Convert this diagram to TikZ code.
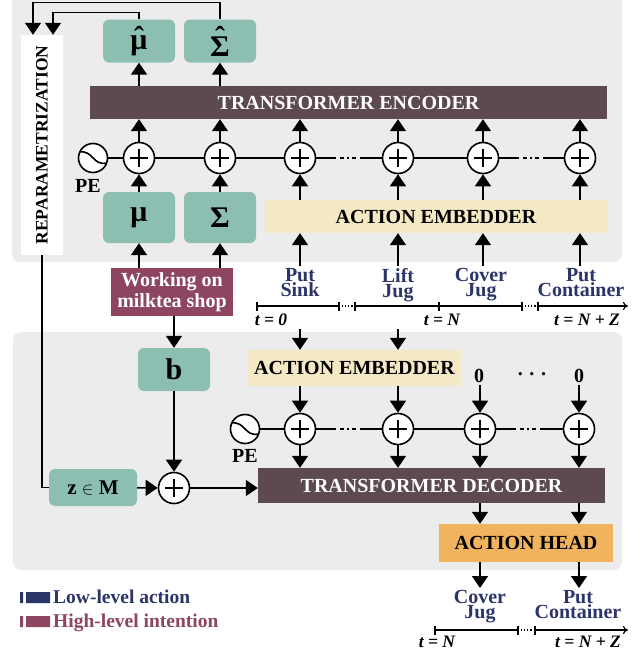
\documentclass[tikz,border=0pt]{standalone}
\usepackage{fontspec}
\setmainfont{Liberation Serif}
\usetikzlibrary{arrows.meta,calc}
\definecolor{tealc}{HTML}{8CBFB1}
\definecolor{panelc}{HTML}{ECECEC}
\definecolor{encc}{HTML}{5C4A50}
\definecolor{embc}{HTML}{F3E9C5}
\definecolor{headc}{HTML}{F2B35E}
\definecolor{maroonc}{HTML}{8D4561}
\definecolor{navyc}{HTML}{2C3568}
\newcommand\fsz[2]{\fontsize{#1}{#2}\selectfont}
\newcommand\hatted[2]{\ooalign{\hfil\raisebox{#2}{ˆ}\hfil\cr#1\cr}}
\begin{document}
\begin{tikzpicture}[x=1pt,y=-1pt,
  arr/.style={draw,line width=1.6pt,-{Triangle[length=12pt,width=16pt]}},
  conn/.style={draw,line width=1.6pt},
  dashdot/.style={dash pattern=on 20pt off 4pt on 4pt off 3pt on 2pt off 3pt on 4pt off 4pt on 60pt},
  tealbox/.style={fill=tealc,rounded corners=6pt,inner sep=0pt,font=\fsz{30}{30}\bfseries},
  encbox/.style={fill=encc,inner sep=0pt,text=white,font=\fsz{20}{20}\bfseries},
  embbox/.style={fill=embc,inner sep=0pt,font=\fsz{20}{20}\bfseries},
  plusc/.style={circle,draw,line width=1.6pt,fill=white,minimum size=31pt,inner sep=0pt,
    path picture={\draw[line width=1.6pt]
      ([xshift=-9pt]path picture bounding box.center) -- ([xshift=9pt]path picture bounding box.center)
      ([yshift=-9pt]path picture bounding box.center) -- ([yshift=9pt]path picture bounding box.center);}},
  pecirc/.style={circle,draw,line width=1.6pt,fill=white,minimum size=29pt,inner sep=0pt,
    path picture={\draw[line width=1.6pt]
      ([shift={(-14pt,6pt)}]path picture bounding box.center) .. controls ([shift={(1pt,8pt)}]path picture bounding box.center) and ([shift={(-1pt,-8pt)}]path picture bounding box.center) .. ([shift={(14pt,-5pt)}]path picture bounding box.center);}},
  lbl/.style={inner sep=2pt,font=\fsz{20}{20}\bfseries},
  actlbl/.style={inner sep=2pt,align=center,text=navyc,font=\fsz{20}{15}\bfseries},
  tlbl/.style={inner sep=0pt,font=\fsz{17.5}{17.5}\bfseries\itshape},
  tline/.style={line width=1.1pt}
]
\useasboundingbox (0,0) rectangle (642,653);
% panels
\fill[panelc,rounded corners=8pt] (12,-10) rectangle (622,262);
\fill[panelc,rounded corners=8pt] (13,332) rectangle (622,570);

% ---------- encoder part ----------
\node[tealbox,minimum width=72pt,minimum height=43pt] (muhat) at (139,41) {\hatted{μ}{2pt}};
\node[tealbox,minimum width=72pt,minimum height=43pt] (sighat) at (220,41) {\hatted{Σ}{9pt}};
\node[encbox,minimum width=517pt,minimum height=33pt] (enc) at (348.5,102.5) {TRANSFORMER ENCODER};
\node[plusc] (a1) at (139,158) {};
\node[plusc] (a2) at (220,158) {};
\node[plusc] (a3) at (300,158) {};
\node[plusc] (a4) at (398,158) {};
\node[plusc] (a5) at (483,158) {};
\node[plusc] (a6) at (580,158) {};
\node[pecirc] (pe1) at (93,158) {};
\node[lbl] (pe1l) at (88,186) {PE};
\node[tealbox,minimum width=72pt,minimum height=51pt] (mu) at (139,217.5) {μ};
\node[tealbox,minimum width=72pt,minimum height=51pt] (sig) at (220,217.5) {Σ};
\node[embbox,minimum width=342pt,minimum height=33pt] (emb1) at (436,216.5) {ACTION EMBEDDER};
\node[fill=maroonc,text=white,inner sep=0pt,align=center,minimum width=122pt,minimum height=48pt,
      font=\fsz{20}{21}\bfseries] (work) at (172,292) {Working on\\milktea shop};
\node[fill=white,minimum width=42pt,minimum height=220pt,inner sep=0pt] (rep) at (42,145) {};
\node[rotate=90,inner sep=0pt,font=\fsz{17.5}{17.5}\bfseries] (reptext) at (rep.center) {REPARAMETRIZATION};

\node[actlbl,anchor=north] (l1) at (300,266) {Put\\Sink};
\node[actlbl,anchor=north] (l2) at (398,266) {Lift\\Jug};
\node[actlbl,anchor=north] (l3) at (481,266) {Cover\\Jug};
\node[actlbl,anchor=north] (l4) at (581,266) {Put\\Container};

% timeline 1
\draw[tline] (257,306) -- (339,306) (355,306) -- (522,306);
\draw[tline,-{To[length=5pt,width=8pt]}] (538,306) -- (628,306);
\draw[tline,dotted] (339,306) -- (355,306) (522,306) -- (538,306);
\foreach \xx in {257,339,355,439,522,538} \draw[tline] (\xx,301.5) -- (\xx,310.5);
\node[tlbl] (t0) at (271,320) {t = 0};
\node[tlbl] (tn) at (442,320) {t = N};
\node[tlbl] (tnz) at (587,320) {t = N + Z};

% encoder connectors
\draw[arr] (enc.north -| muhat) -- (muhat.south);
\draw[arr] (enc.north -| sighat) -- (sighat.south);
\foreach \a in {a1,a2,a3,a4,a5,a6} \draw[arr] (\a.north) -- (\a.north |- enc.south);
\draw[arr] (mu.north) -- (a1.south);
\draw[arr] (sig.north) -- (a2.south);
\foreach \a in {a3,a4,a5,a6} \draw[arr] (emb1.north -| \a) -- (\a.south);
\draw[arr] (a3 |- l1.north) -- (a3 |- emb1.south);
\draw[arr] (a4 |- l2.north) -- (a4 |- emb1.south);
\draw[arr] (a5 |- l3.north) -- (a5 |- emb1.south);
\draw[arr] (a6 |- l4.north) -- (a6 |- emb1.south);
\draw[arr] (work.north -| mu) -- (mu.south);
\draw[arr] (work.north -| sig) -- (sig.south);
\draw[conn] (pe1) -- (a1);
\draw[conn] (a1) -- (a2);
\draw[conn] (a2) -- (a3);
\draw[conn,dashdot] (a3) -- (a4);
\draw[conn] (a4) -- (a5);
\draw[conn,dashdot] (a5) -- (a6);
\draw[arr] (sighat.north) -- ++(0,-17) -| ([xshift=-9pt]rep.north);
\draw[arr] (muhat.north) -- ++(0,-7) -| ([xshift=11pt]rep.north);

% ---------- decoder part ----------
\node[tealbox,minimum width=72pt,minimum height=43pt] (b) at (174,369.5) {b};
\node[embbox,minimum width=213pt,minimum height=36pt] (emb2) at (354.5,368) {ACTION EMBEDDER};
\node[lbl] (z1) at (479,376) {0};
\node[lbl] (z2) at (579,376) {0};
\node[lbl] (dots) at (532,374) {.\,\,.\,\,.};
\node[plusc] (d1) at (300,429) {};
\node[plusc] (d2) at (398,429) {};
\node[plusc] (d3) at (480,429) {};
\node[plusc] (d4) at (579,429) {};
\node[pecirc] (pe2) at (245,429) {};
\node[lbl] (pe2l) at (245,456) {PE};
\node[encbox,minimum width=347pt,minimum height=35pt] (dec) at (431.5,485.5) {TRANSFORMER DECODER};
\node[tealbox,minimum width=88pt,minimum height=37pt,font=\fsz{21}{21}\bfseries] (zm) at (93,487.5) {z {\fsz{17}{17}$\in$} M};
\node[plusc] (p3) at (174,488) {};
\node[fill=headc,inner sep=0pt,minimum width=174pt,minimum height=38pt,font=\fsz{20}{20}\bfseries] (head) at (526,543) {ACTION HEAD};
\node[actlbl,anchor=north] (bl1) at (480,588) {Cover\\Jug};
\node[actlbl,anchor=north] (bl2) at (578,588) {Put\\Container};
\coordinate (s1) at (300,329);
\coordinate (s2) at (398,329);

% timeline 2
\draw[tline] (435,630) -- (518,630);
\draw[tline,-{To[length=5pt,width=8pt]}] (535,630) -- (628,630);
\draw[tline,dotted] (518,630) -- (535,630);
\foreach \xx in {435,518,535} \draw[tline] (\xx,625.5) -- (\xx,634.5);
\node[tlbl] (tn2) at (437,642) {t = N};
\node[tlbl] (tnz2) at (588,642) {t = N + Z};

% decoder connectors
\draw[arr] (work.south -| b) -- (b.north);
\draw[arr] (s1) -- (s1 |- emb2.north);
\draw[arr] (s2) -- (s2 |- emb2.north);
\draw[arr] (emb2.south -| d1) -- (d1.north);
\draw[arr] (emb2.south -| d2) -- (d2.north);
\draw[arr] (z1.south -| d3) -- (d3.north);
\draw[arr] (z2.south -| d4) -- (d4.north);
\foreach \d in {d1,d2,d3,d4} \draw[arr] (\d.south) -- (\d.south |- dec.north);
\draw[conn] (pe2) -- (d1);
\draw[conn,dashdot] (d1) -- (d2);
\draw[conn] (d2) -- (d3);
\draw[conn,dashdot] (d3) -- (d4);
\draw[conn] (rep.south) |- (zm.west);
\draw[arr] (zm) -- (p3);
\draw[arr] (b.south) -- (p3.north);
\draw[arr] (p3.east) -- (p3.east -| dec.west);
\draw[arr] (dec.south -| d3) -- (head.north -| d3);
\draw[arr] (dec.south -| d4) -- (head.north -| d4);
\draw[arr] (head.south -| d3) -- (bl1.north -| d3);
\draw[arr] (head.south -| d4) -- (bl2.north -| d4);

% legend
\fill[navyc] (20,592) rectangle (23,603) (26,592) rectangle (50,603);
\node[anchor=base west,inner sep=0pt,text=navyc,font=\fsz{19.5}{19.5}\bfseries] (leg1) at (53,603) {Low-level action};
\fill[maroonc] (20,616) rectangle (23,627) (26,616) rectangle (50,627);
\node[anchor=base west,inner sep=0pt,text=maroonc,font=\fsz{19.5}{19.5}\bfseries] (leg2) at (53,627) {High-level intention};
\end{tikzpicture}
\end{document}
